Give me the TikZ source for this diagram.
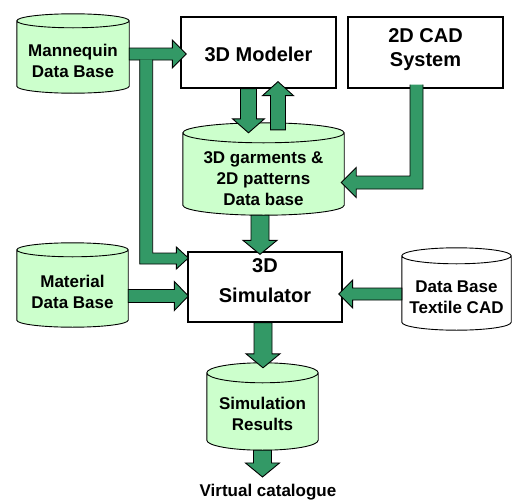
\documentclass[tikz,border=0pt]{standalone}
\usepackage{fontspec}
\setmainfont{Liberation Sans}
\usetikzlibrary{calc,backgrounds}
\usepackage{xcolor}

\definecolor{flowgreen}{RGB}{51,153,102}
\definecolor{drumgreen}{RGB}{204,255,204}

\tikzset{
  store/.style={inner sep=0pt, align=center, font=\fontsize{17}{21}\selectfont\bfseries},
  unit/.style={draw, line width=1.3pt, fill=white, inner sep=0pt, align=center,
    font=\fontsize{20}{24}\selectfont\bfseries},
  fat/.style={fill=flowgreen, draw=black, line width=0.9pt, line join=miter},
  drumline/.style={draw=black, line width=0.9pt}
}

% cylinder round a node: name, end radius, fill
\newcommand{\drum}[3]{%
  \filldraw[drumline, fill=#3] let \p1=(#1.north west), \p2=(#1.south east),
    \n1={(\x2-\x1)/2} in
    (\x1,\y1+#2) -- (\x1,\y2+#2)
    arc[start angle=180, end angle=360, x radius=\n1, y radius=#2]
    -- (\x2,\y1+#2)
    arc[start angle=0, end angle=180, x radius=\n1, y radius=#2] -- cycle
    (\x1,\y1+#2) arc[start angle=180, end angle=360, x radius=\n1, y radius=#2];
}

% fat vertical arrow: half shaft width, from, to
\newcommand{\vfat}[3][7]{%
  \filldraw[fat] let \p1=(#2), \p2=(#3), \n1={sign(\y2-\y1)} in
    (\x1-#1pt,\y1) -- (\x1-#1pt,\y2-\n1*14pt) -- (\x1-#1pt-8pt,\y2-\n1*14pt)
    -- (\x1,\y2) -- (\x1+#1pt+8pt,\y2-\n1*14pt) -- (\x1+#1pt,\y2-\n1*14pt)
    -- (\x1+#1pt,\y1) -- cycle;
}

% fat horizontal arrow: half shaft width, from, to
\newcommand{\hfat}[3][7]{%
  \filldraw[fat] let \p1=(#2), \p2=(#3), \n1={sign(\x2-\x1)} in
    (\x1,\y1+#1pt) -- (\x2-\n1*14pt,\y1+#1pt) -- (\x2-\n1*14pt,\y1+#1pt+8pt)
    -- (\x2,\y1) -- (\x2-\n1*14pt,\y1-#1pt-8pt) -- (\x2-\n1*14pt,\y1-#1pt)
    -- (\x1,\y1-#1pt) -- cycle;
}

\begin{document}
\begin{tikzpicture}[x=1pt, y=-1pt]
        \useasboundingbox (0,0) rectangle (512,501);

        % Data bases
        \node[store, minimum width=112pt, minimum height=65pt] (mannequin) at (73,60.5) {Mannequin\\Data Base};
        \node[store, minimum width=161pt, minimum height=72pt] (garments) at (263.5,179) {3D garments \&\\2D patterns\\Data base};
        \node[store, minimum width=111pt, minimum height=70pt] (material) at (72.5,292) {Material\\Data Base};
        \node[store, minimum width=109pt, minimum height=66pt] (textile) at (456.5,297) {Data Base\\Textile CAD};
        \node[store, minimum width=111pt, minimum height=67pt, text depth=6pt] (results) at (262.5,416.5) {Simulation\\Results};

        % Tools
        \node[unit, minimum width=155pt, minimum height=71pt, text height=19pt] (modeler) at (258.5,52.5) {3D Modeler};
        \node[unit, minimum width=155pt, minimum height=71pt, text depth=9pt] (cad) at (425.5,52.5) {2D CAD\\System};
        \node[unit, minimum width=154pt, minimum height=70pt, text depth=12pt,
              font=\fontsize{20}{30}\selectfont\bfseries] (simulator) at (265,287) {3D\\Simulator};

        \node[store, anchor=base] (catalogue) at (268,496.5) {Virtual catalogue};

        % Cylinders behind the texts
        \begin{pgfonlayer}{background}
          \drum{mannequin}{7pt}{drumgreen}
          \drum{garments}{10pt}{drumgreen}
          \drum{material}{7pt}{drumgreen}
          \drum{textile}{8pt}{white}
          \drum{results}{10pt}{drumgreen}
        \end{pgfonlayer}

        % Arrows into the modeler
        \hfat[6]{[yshift=6.5pt]mannequin.east}{[xshift=6pt]modeler.west}
        \vfat[8]{[xshift=-10pt]modeler.south}{[yshift=10pt]garments.north}
        \vfat[7.5]{[xshift=14.5pt,yshift=13pt]garments.north}{[yshift=7pt]modeler.south}

        % Branch from the mannequins down to the simulator
        \coordinate (fork) at ([xshift=17pt]mannequin.east);
        \filldraw[fat] let \p1=(fork), \p2=([xshift=1pt,yshift=29pt]simulator.west) in
          (\x1-6.5pt,\y1+1pt) -- (\x1-6.5pt,\y2-6pt) -- (\x2-12pt,\y2-6pt) -- (\x2-12pt,\y2-11pt)
          -- (\p2) -- (\x2-12pt,\y2+11pt) -- (\x2-12pt,\y2+5pt) -- (\x1+6.5pt,\y2+5pt)
          -- (\x1+6.5pt,\y1+1pt);

        % 2D CAD into the garments base
        \filldraw[fat] let \p1=([xshift=-9pt,yshift=4pt]cad.south), \p2=([xshift=-3pt,yshift=-3.5pt]garments.east) in
          (\x1-6.5pt,\y1) -- (\x1-6.5pt,\y2+6.5pt) -- (\x2+15pt,\y2+6.5pt) -- (\x2+15pt,\y2+15pt)
          -- (\p2) -- (\x2+15pt,\y2-15pt) -- (\x2+15pt,\y2-6.5pt) -- (\x1+6.5pt,\y2-6.5pt)
          -- (\x1+6.5pt,\y1);

        % Arrows round the simulator
        \vfat[9]{[xshift=-3.5pt]garments.south}{[yshift=-3pt]simulator.north}
        \hfat[6.5]{[yshift=-4pt]material.east}{[xshift=1pt]simulator.west}
        \hfat[6]{[yshift=3pt]textile.west}{[xshift=-4pt]simulator.east}
        \vfat[9]{[xshift=-2pt]simulator.south}{[yshift=15pt]results.north}
        \vfat[9]{results.south}{[yshift=7pt]catalogue.north}

    \end{tikzpicture}
\end{document}
